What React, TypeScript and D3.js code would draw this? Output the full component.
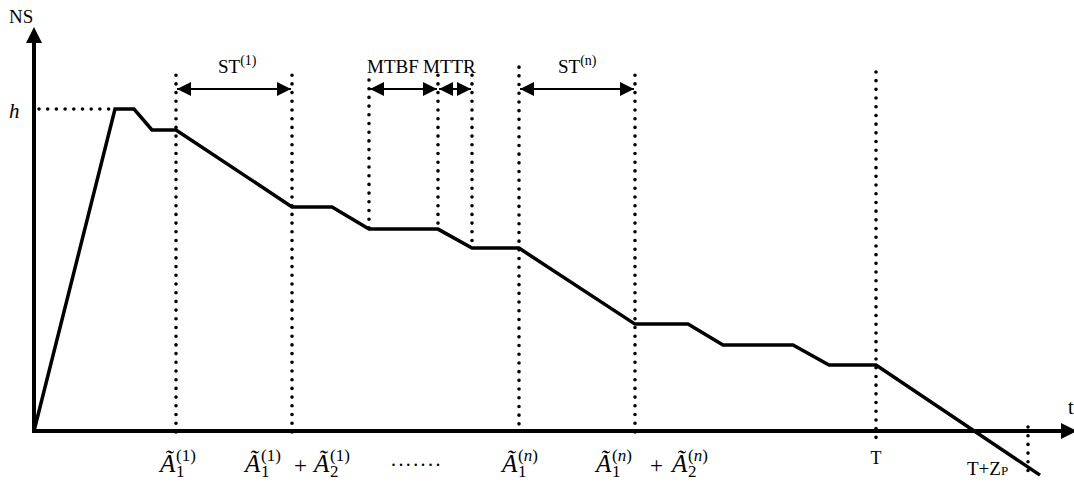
import React from "react";
import * as d3 from "d3";

// ---- data (time units, stock level units where h = 100) ----
const timePoints = [0, 81, 100, 118, 142, 258, 298, 335, 404, 438, 485, 601, 654, 689, 759, 795, 842, 1006];
const stockLevels = [0, 100, 100, 93.5, 93.5, 69.6, 69.6, 62.7, 62.7, 56.8, 56.8, 33.2, 33.2, 26.7, 26.7, 20.5, 20.5, -13.7];

const hLevel = 100;
const hPeakStart = 81;

// vertical guide lines: time, where they end at the bottom
const guideTimes = [142, 258, 335, 404, 438, 485, 601, 842];
const guideEnds = ["below", "below", "curve", "curve", "curve", "axis", "below", "below"];
const guideTops = [110.5, 110.5, 109, 110.5, 110.5, 113, 110.5, 111.5];

const tZp = 994;

// interval arrows
const intervalStarts = [142, 335, 404, 485];
const intervalEnds = [258, 404, 438, 601];
const intervalLabels = ["ST", "MTBF", "MTTR", "ST"];
const intervalSups = ["(1)", "", "", "(n)"];

const W = 1074;
const H = 483;

const x = d3.scaleLinear().domain([0, 1040]).range([34, 1074]);
const y = d3.scaleLinear().domain([0, 100]).range([431, 109]);

const FONT = "'Liberation Serif', 'Times New Roman', serif";

function levelAt(t: number) {
  for (let i = 0; i < timePoints.length - 1; i++) {
    if (t >= timePoints[i] && t <= timePoints[i + 1]) {
      const f = (t - timePoints[i]) / (timePoints[i + 1] - timePoints[i]);
      return stockLevels[i] + f * (stockLevels[i + 1] - stockLevels[i]);
    }
  }
  return 0;
}

const DOT = { stroke: "#000", strokeWidth: 3.6, strokeLinecap: "round" as const, strokeDasharray: "0 8.7", fill: "none" };

function MathA({ left, base, sub, sup }: { left: number; base: number; sub: string; sup: string }) {
  return (
    <text fontFamily={FONT} x={left} y={base}>
      <tspan fontSize={25} fontStyle="italic">Ã</tspan>
      <tspan x={left + 16} y={base + 5} fontSize={17}>{sub}</tspan>
      <tspan x={left + 16} y={base - 11} fontSize={17}>(</tspan>
      <tspan fontSize={17} fontStyle={sup === "n" ? "italic" : "normal"}>{sup}</tspan>
      <tspan fontSize={17}>)</tspan>
    </text>
  );
}

export default function App() {
  const line = d3
    .line<number>()
    .x((_, i) => x(timePoints[i]))
    .y((d) => y(d));
  const pathD = line(stockLevels) || "";

  return (
    <svg
      width={W}
      height={H}
      viewBox={`0 0 ${W} ${H}`}
      style={{ position: "absolute", left: 0, top: 0, background: "#fff" }}
    >
      <defs>
        <marker id="ah" viewBox="0 0 14 14" refX="14" refY="7" markerWidth="14" markerHeight="14" markerUnits="userSpaceOnUse" orient="auto-start-reverse">
          <path d="M0,0 L14,7 L0,14 Z" fill="#000" />
        </marker>
      </defs>

      {/* h dotted line */}
      <line x1={39} x2={x(hPeakStart) - 6} y1={y(hLevel)} y2={y(hLevel)} {...DOT} />

      {/* vertical guides */}
      {guideTimes.map((t, i) => {
        const end = guideEnds[i];
        const bottom = end === "below" ? 440 : end === "axis" ? y(0) : y(levelAt(t));
        return <line key={i} x1={x(t)} x2={x(t)} y1={y(guideTops[i])} y2={bottom} {...DOT} />;
      })}
      <line x1={x(tZp)} x2={x(tZp)} y1={427} y2={476} {...DOT} />

      {/* axes */}
      <line x1={34} y1={y(0)} x2={34} y2={40} stroke="#000" strokeWidth={4} />
      <path d={`M34,27 L42,43 L26,43 Z`} fill="#000" />
      <line x1={32} y1={y(0)} x2={1062} y2={y(0)} stroke="#000" strokeWidth={4} />
      <path d={`M1077,${y(0)} L1061,${y(0) - 8} L1061,${y(0) + 8} Z`} fill="#000" />

      {/* stock curve */}
      <path d={pathD} fill="none" stroke="#000" strokeWidth={3.5} strokeLinejoin="miter" />

      {/* interval arrows */}
      {intervalStarts.map((s, i) => (
        <line
          key={i}
          x1={x(s) + 1}
          x2={x(intervalEnds[i]) - 1}
          y1={89}
          y2={89}
          stroke="#000"
          strokeWidth={2}
          markerStart="url(#ah)"
          markerEnd="url(#ah)"
        />
      ))}

      {/* interval labels */}
      <g fontFamily={FONT} fontSize={19}>
        <text x={218} y={73}>
          {intervalLabels[0]}
          <tspan fontSize={14} dy={-8}>{intervalSups[0]}</tspan>
        </text>
        <text x={367} y={73}>{intervalLabels[1]}</text>
        <text x={423} y={73}>{intervalLabels[2]}</text>
        <text x={558} y={73}>
          {intervalLabels[3]}
          <tspan fontSize={14} dy={-8}>{intervalSups[3]}</tspan>
        </text>
      </g>

      {/* axis labels */}
      <g fontFamily={FONT}>
        <text x={9} y={23} fontSize={19}>NS</text>
        <text x={9} y={118} fontSize={21} fontStyle="italic">h</text>
        <text x={1068} y={414} fontSize={20}>t</text>
        <text x={x(842)} y={464} fontSize={18} textAnchor="middle">T</text>
        <text x={967} y={475} fontSize={19}>
          T+Z<tspan fontSize={13}>P</tspan>
        </text>
        <text x={391} y={466} fontSize={20} letterSpacing={2.4}>.......</text>
      </g>

      {/* bottom math labels */}
      <MathA left={x(142) - 16} base={472} sub="1" sup="1" />
      <MathA left={x(258) - 47} base={472} sub="1" sup="1" />
      <text x={x(258) + 2} y={473} fontFamily={FONT} fontSize={23}>+</text>
      <MathA left={x(258) + 22} base={472} sub="2" sup="1" />
      <MathA left={x(485) - 17} base={472} sub="1" sup="n" />
      <MathA left={x(601) - 39} base={472} sub="1" sup="n" />
      <text x={x(601) + 15} y={473} fontFamily={FONT} fontSize={23}>+</text>
      <MathA left={x(601) + 37} base={472} sub="2" sup="n" />
    </svg>
  );
}
